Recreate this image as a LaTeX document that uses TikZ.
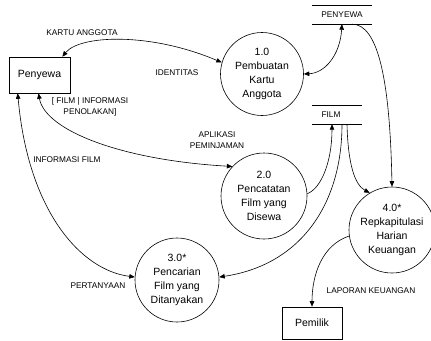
\documentclass[tikz,border=0pt]{standalone}
\usepackage{fontspec}
\setmainfont{Liberation Sans}
\usetikzlibrary{arrows.meta}
\begin{document}
\begin{tikzpicture}[x=1pt,y=-1pt,
  proc/.style={draw, circle, line width=0.6pt, inner sep=0pt, align=center,
    font=\fontsize{10.5}{14}\selectfont},
  ent/.style={draw, rectangle, line width=0.6pt, align=center,
    font=\fontsize{10.5}{13}\selectfont},
  store/.style={inner sep=0pt, font=\fontsize{8.3}{10}\selectfont},
  lbl/.style={inner sep=0pt, align=center, font=\fontsize{8.3}{11}\selectfont},
  tip/.style={Triangle[length=5.5pt,width=4.5pt]},
  flow/.style={line width=0.6pt, -{Triangle[length=5.5pt,width=4.5pt]}},
  both/.style={line width=0.6pt, {Triangle[length=5.5pt,width=4.5pt]}-{Triangle[length=5.5pt,width=4.5pt]}}
]
\useasboundingbox (0,0) rectangle (431,340);

% external entities
\node[ent, minimum width=61pt, minimum height=36pt] (penyewa) at (39.5,75) {Penyewa};
\node[ent, minimum width=60pt, minimum height=32pt] (pemilik) at (312,323) {Pemilik};

% processes
\node[proc, minimum size=83pt] (p1) at (262,74) {1.0\\Pembuatan\\Kartu\\Anggota};
\node[proc, minimum size=86pt] (p2) at (264,196) {2.0\\Pencatatan\\Film yang\\Disewa};
\node[proc, minimum size=84pt] (p3) at (177,280) {3.0*\\Pencarian\\Film yang\\Ditanyakan};
\node[proc, minimum size=86pt] (p4) at (392,230) {4.0*\\Repkapitulasi\\Harian\\Keuangan};

% data stores
\node[store, minimum width=60pt, minimum height=19pt] (sPenyewa) at (342,14.5) {PENYEWA};
\draw[line width=0.6pt] (sPenyewa.north west) -- (sPenyewa.north east)
  (sPenyewa.south west) -- (sPenyewa.south east);
\node[store, minimum width=50pt, minimum height=19pt] (sFilm) at (337,114.5) {};
\node[store, anchor=center] (sFilmText) at (331,114.5) {FILM};
\draw[line width=0.6pt] (sFilm.north west) -- (sFilm.north east)
  (sFilm.south west) -- (sFilm.south east);

% data flows
\draw[both] ([xshift=-8pt]penyewa.north east) .. controls (80,35) and (150,32) .. (p1.164);
\draw[both] (sPenyewa.south) .. controls (340,55) and (325,73) .. (p1.0);
\draw[flow] ([xshift=10pt]sPenyewa.south) .. controls (378,24) and (390,80) .. (p4.90);
\draw[flow] (p2.3) .. controls (322,188) and (332,160) .. ([xshift=-5pt]sFilm.south);
\draw[flow] ([xshift=5pt]sFilm.south) .. controls (342,205) and (300,265) .. (p3.4);
\draw[flow] ([xshift=10pt]sFilm.south) .. controls (348,165) and (355,185) .. (p4.121);
\draw[both] ([xshift=-1pt]penyewa.south) .. controls (45,130) and (120,160) .. (p2.137);
\draw[both] ([xshift=9pt]penyewa.south west) .. controls (28,210) and (80,270) .. (p3.176);
\draw[flow] (p4.188) .. controls (322,245) and (312,275) .. (pemilik.north);

% flow labels
\node[lbl] (lKartu) at (82,33) {KARTU ANGGOTA};
\node[lbl] (lIdent) at (177,73) {IDENTITAS};
\node[lbl] (lFilm) at (90,107) {[ FILM | INFORMASI\\PENOLAKAN]};
\node[lbl] (lAplikasi) at (217,140) {APLIKASI\\PEMINJAMAN};
\node[lbl] (lInfo) at (67,160) {INFORMASI FILM};
\node[lbl] (lTanya) at (98,286) {PERTANYAAN};
\node[lbl] (lLapor) at (371,291) {LAPORAN KEUANGAN};
\end{tikzpicture}
\end{document}
